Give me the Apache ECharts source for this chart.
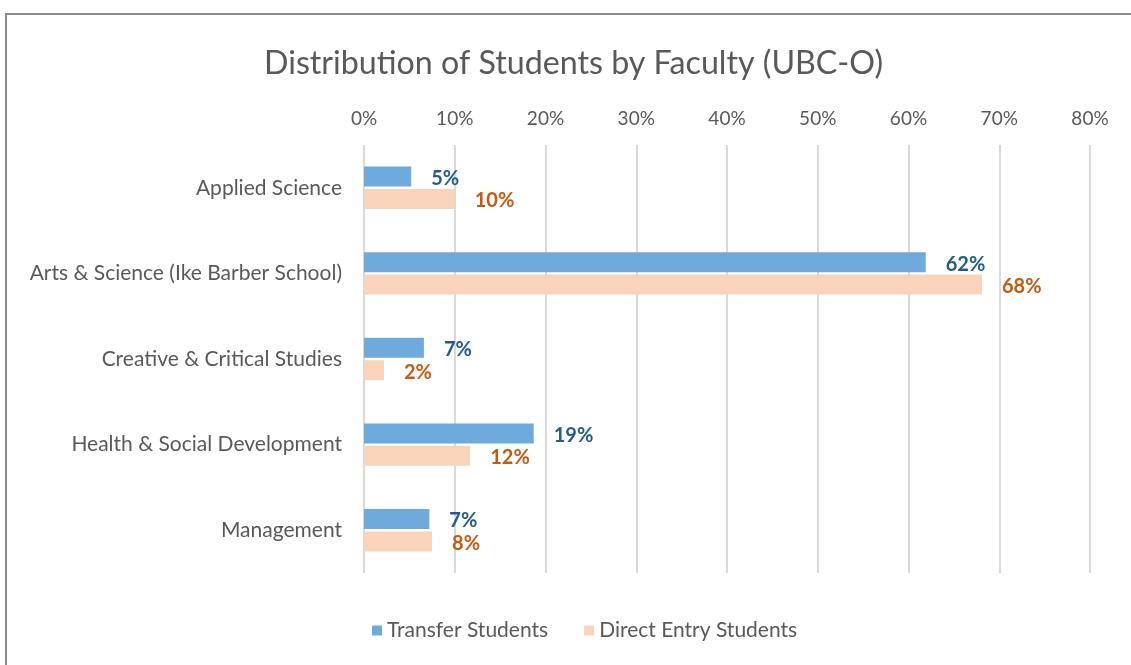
<!DOCTYPE html>
<html>
<head>
<meta charset="utf-8">
<script src="https://cdn.jsdelivr.net/npm/echarts@6/dist/echarts.min.js"></script>
<style>
  html, body { margin: 0; padding: 0; background: #fff; }
  #frame {
    position: absolute; left: 5px; top: 13px;
    width: 1140px; height: 670px;
    border: 2px solid #8c8c8c; box-sizing: border-box;
  }
  #main { position: absolute; left: 0; top: 0; width: 1131px; height: 665px; }
</style>
</head>
<body>
<div id="frame"></div>
<div id="main"></div>
<script>
// faculties, top to bottom
var faculties = [
  "Applied Science",
  "Arts & Science (Ike Barber School)",
  "Creative & Critical Studies",
  "Health & Social Development",
  "Management"
];
// percent of students
var transferStudents = [5.2, 61.9, 6.6, 18.7, 7.2];
var directEntryStudents = [10.0, 68.1, 2.2, 11.7, 7.5];
var tickLabels = [0, 10, 20, 30, 40, 50, 60, 70, 80];

var font = "Lato, 'Open Sans', sans-serif";
var greyText = "#595959";

var myChart = echarts.init(document.getElementById("main"));
myChart.setOption({
  backgroundColor: "transparent",
  animation: false,
  title: {
    text: "Distribution of Students by Faculty (UBC-O)",
    left: 259,
    top: 43,
    textStyle: {
      fontFamily: font,
      fontSize: 32.2,
      fontWeight: "normal",
      color: greyText
    }
  },
  legend: {
    bottom: 19,
    left: 367,
    itemWidth: 10,
    itemHeight: 10,
    itemGap: 36,
    icon: "rect",
    textStyle: { fontFamily: font, fontSize: 21, color: greyText },
    data: ["Transfer Students", "Direct Entry Students"]
  },
  grid: { left: 364, right: 41, top: 145, bottom: 92 },
  xAxis: {
    type: "value",
    position: "top",
    min: tickLabels[0],
    max: tickLabels[tickLabels.length - 1],
    interval: 10,
    axisLine: { show: false },
    axisTick: { show: false },
    axisLabel: {
      formatter: "{value}%",
      fontFamily: font,
      fontSize: 19,
      color: greyText,
      margin: 17
    },
    splitLine: { lineStyle: { color: "#d9d9d9", width: 2 } }
  },
  yAxis: {
    type: "category",
    inverse: true,
    data: faculties,
    axisLine: { show: false },
    axisTick: { show: false },
    axisLabel: {
      fontFamily: font,
      fontSize: 21,
      color: greyText,
      margin: 22
    }
  },
  series: [
    {
      name: "Transfer Students",
      type: "bar",
      data: transferStudents,
      barWidth: 20,
      barGap: "12%",
      itemStyle: { color: "#6eaadb" },
      label: {
        show: true,
        position: "right",
        distance: 20,
        offset: [0, 2],
        formatter: function (p) { return Math.round(p.value) + "%"; },
        fontFamily: font,
        fontSize: 20,
        fontWeight: "bold",
        color: "#235b8c"
      }
    },
    {
      name: "Direct Entry Students",
      type: "bar",
      data: directEntryStudents,
      barWidth: 20,
      itemStyle: { color: "#f9d4bb" },
      label: {
        show: true,
        position: "right",
        distance: 20,
        offset: [0, 2],
        formatter: function (p) { return Math.round(p.value) + "%"; },
        fontFamily: font,
        fontSize: 20,
        fontWeight: "bold",
        color: "#c55a11"
      }
    }
  ]
});
</script>
</body>
</html>
